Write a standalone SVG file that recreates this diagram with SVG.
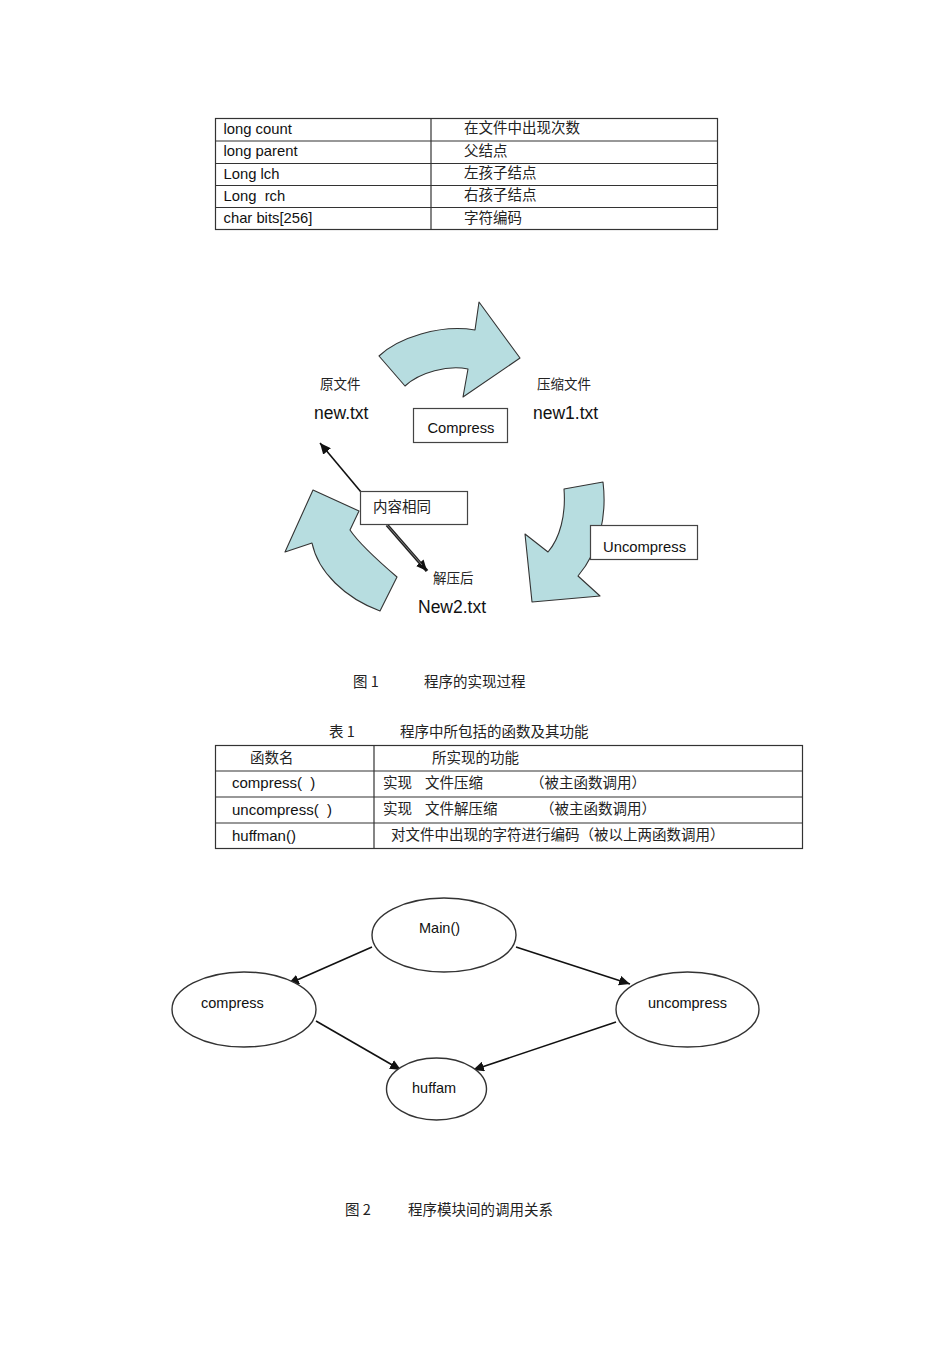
<svg xmlns="http://www.w3.org/2000/svg" width="950" height="1345" viewBox="0 0 950 1345">
<style>
text{font-family:"Liberation Sans","Noto Sans CJK SC",sans-serif;fill:#111}
.cn{font-family:"Noto Sans CJK SC","Liberation Sans",sans-serif;font-size:14.5px;fill:#222}
.t1{font-size:14.8px}
.t2{font-size:15px}
.g2{font-size:14.5px}
.cap{font-family:"Noto Sans CJK SC","Liberation Sans",sans-serif;font-size:14.5px;fill:#222}
.grid{fill:none;stroke:#333;stroke-width:1.2}
.blue{fill:#b7dde0;stroke:#333;stroke-width:1.1;stroke-linejoin:round}
.box{fill:#fff;stroke:#444;stroke-width:1.2}
.ell{fill:#fff;stroke:#333;stroke-width:1.4}
.con{stroke:#111;stroke-width:1.6;fill:none}
</style>
<defs>
<marker id="ah" markerUnits="userSpaceOnUse" markerWidth="12" markerHeight="10" refX="11" refY="5" orient="auto">
<path d="M0,0 L11,5 L0,10 Z" fill="#111"/>
</marker>
</defs>

<!-- Table 1 -->
<g id="table1">
<rect class="grid" x="215.5" y="118.5" width="502" height="111"/>
<line class="grid" x1="215" y1="141" x2="717" y2="141"/>
<line class="grid" x1="215" y1="163.5" x2="717" y2="163.5"/>
<line class="grid" x1="215" y1="185.5" x2="717" y2="185.5"/>
<line class="grid" x1="215" y1="207.5" x2="717" y2="207.5"/>
<line class="grid" x1="431" y1="118" x2="431" y2="230"/>
<text class="t1" x="223.5" y="133.5">long count</text>
<text class="t1" x="223.5" y="156">long parent</text>
<text class="t1" x="223.5" y="178.5">Long lch</text>
<text class="t1" x="223.5" y="200.5" xml:space="preserve">Long  rch</text>
<text class="t1" x="223.5" y="223">char bits[256]</text>
<text class="cn" x="464" y="133">在文件中出现次数</text>
<text class="cn" x="464" y="155.5">父结点</text>
<text class="cn" x="464" y="178">左孩子结点</text>
<text class="cn" x="464" y="200">右孩子结点</text>
<text class="cn" x="464" y="222.5">字符编码</text>
</g>

<!-- Figure 1 -->
<g id="arrow-compress">
<path class="blue" d="M379,356 C398,338 440,324 475,330 L479,302 L520,358 L463,397 L468,369 C448,365 420,372 405,386 Z"/>
</g>
<g id="arrow-uncompress">
<path class="blue" d="M564,489 L603,482 C607,515 600,550 578,576 L600,596 L532,602 L525,534 L548,552 C560,538 566,515 564,489 Z"/>
</g>
<g id="arrow-back">
<path class="blue" d="M313,490 L359,511 L350,530 C360,545 383,565 397,577 L380,611 C345,598 318,572 312,543 L285,552 Z"/>
</g>

<g id="connectors-fig1">
<line class="con" x1="361" y1="492" x2="320" y2="443" marker-end="url(#ah)"/>
<line x1="387" y1="525" x2="427" y2="571" stroke="#222" stroke-width="3.4" marker-end="url(#ah)"/>
<line x1="387" y1="525" x2="422" y2="565" stroke="#888" stroke-width="0.9"/>
</g>

<g id="node-compress">
<rect class="box" x="413.5" y="408.5" width="94" height="34"/>
<text x="427.5" y="433" style="font-size:14.7px">Compress</text>
</g>
<g id="node-uncompress">
<rect class="box" x="590.5" y="525.5" width="107" height="34"/>
<text x="603" y="552" style="font-size:14.8px">Uncompress</text>
</g>
<g id="node-same">
<rect class="box" x="360.5" y="491.5" width="107" height="33"/>
<text class="cn" x="373" y="512" style="font-size:14.5px">内容相同</text>
</g>
<g id="node-new">
<text class="cn" x="320" y="389" style="font-size:13.5px">原文件</text>
<text x="314" y="418.5" style="font-size:17.5px">new.txt</text>
</g>
<g id="node-new1">
<text class="cn" x="537" y="389" style="font-size:13.5px">压缩文件</text>
<text x="533" y="418.5" style="font-size:17.5px">new1.txt</text>
</g>
<g id="node-new2">
<text class="cn" x="433" y="582.5" style="font-size:13.5px">解压后</text>
<text x="418" y="612.5" style="font-size:17.5px">New2.txt</text>
</g>

<g id="caption1">
<text class="cap" x="353" y="686.5" xml:space="preserve">图 1</text>
<text class="cap" x="424" y="686.5">程序的实现过程</text>
</g>

<!-- Table 2 -->
<g id="caption-table1">
<text class="cap" x="329" y="736.5" xml:space="preserve">表 1</text>
<text class="cap" x="400" y="736.5">程序中所包括的函数及其功能</text>
</g>
<g id="table2">
<rect class="grid" x="215.5" y="745.5" width="587" height="103"/>
<line class="grid" x1="215" y1="771" x2="802" y2="771"/>
<line class="grid" x1="215" y1="797" x2="802" y2="797"/>
<line class="grid" x1="215" y1="823" x2="802" y2="823"/>
<line class="grid" x1="374" y1="745" x2="374" y2="848"/>
<text class="cn" x="250" y="763">函数名</text>
<text class="cn" x="432" y="763">所实现的功能</text>
<text class="t2" x="232" y="788" xml:space="preserve">compress(  )</text>
<text class="t2" x="232" y="814.5" xml:space="preserve">uncompress(  )</text>
<text class="t2" x="232" y="840.5">huffman()</text>
<text class="cn" x="383" y="787.5">实现</text>
<text class="cn" x="425" y="787.5">文件压缩</text>
<text class="cn" x="530" y="787.5">（被主函数调用）</text>
<text class="cn" x="383" y="813.5">实现</text>
<text class="cn" x="425" y="813.5">文件解压缩</text>
<text class="cn" x="540" y="813.5">（被主函数调用）</text>
<text class="cn" x="391" y="839.5">对文件中出现的字符进行编码（被以上两函数调用）</text>
</g>

<!-- Figure 2 -->
<g id="connectors-fig2">
<line class="con" x1="372" y1="947" x2="288" y2="984" marker-end="url(#ah)"/>
<line class="con" x1="516" y1="947" x2="630" y2="984" marker-end="url(#ah)"/>
<line class="con" x1="316" y1="1021" x2="401" y2="1070" marker-end="url(#ah)"/>
<line class="con" x1="616" y1="1022" x2="473" y2="1070" marker-end="url(#ah)"/>
</g>
<g id="node-main">
<ellipse class="ell" cx="444" cy="935" rx="72" ry="37"/>
<text class="g2" x="419" y="933">Main()</text>
</g>
<g id="node-compress2">
<ellipse class="ell" cx="244" cy="1009.5" rx="72" ry="37.5"/>
<text class="g2" x="201" y="1008">compress</text>
</g>
<g id="node-uncompress2">
<ellipse class="ell" cx="687.5" cy="1009.5" rx="71.5" ry="37.5"/>
<text class="g2" x="648" y="1008">uncompress</text>
</g>
<g id="node-huffam">
<ellipse class="ell" cx="436.5" cy="1089" rx="50" ry="31"/>
<text class="g2" x="412" y="1093">huffam</text>
</g>

<g id="caption2">
<text class="cap" x="345" y="1214.5" xml:space="preserve">图 2</text>
<text class="cap" x="408" y="1214.5">程序模块间的调用关系</text>
</g>
</svg>
